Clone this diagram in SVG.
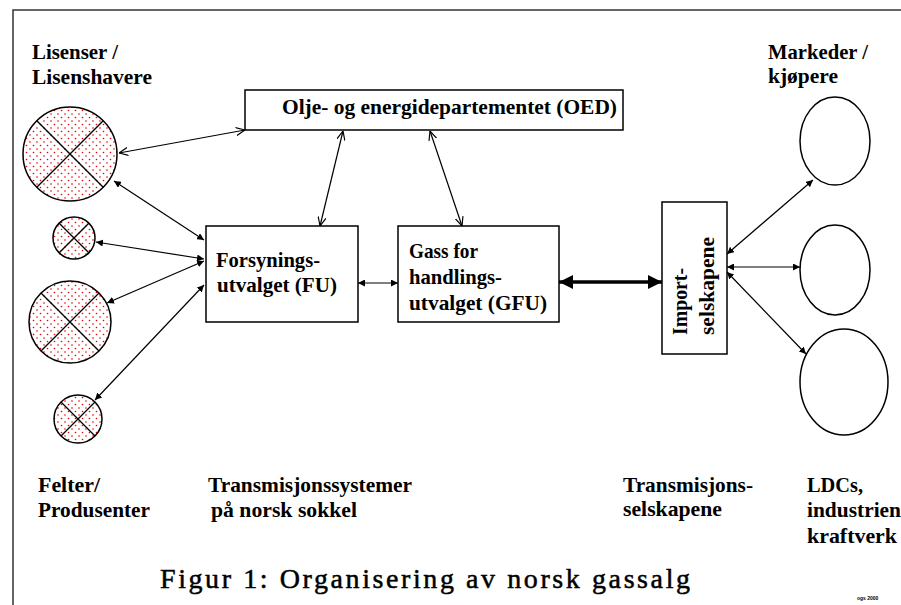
<svg xmlns="http://www.w3.org/2000/svg" width="901" height="605" viewBox="0 0 901 605">
<style>
.lbl{font-family:"Liberation Serif","Times New Roman",serif;font-weight:bold;font-size:21px;fill:#000}
.title{font-family:"Liberation Serif","Times New Roman",serif;font-size:28px;fill:#000;stroke:#000;stroke-width:0.5}
.box{fill:#fff;stroke:#000;stroke-width:1.5}
.circ{fill:url(#dots);stroke:#000;stroke-width:1.5}
.x{stroke:#000;stroke-width:1.3}
.ell{fill:#fff;stroke:#000;stroke-width:1.5}
.c{stroke:#000;stroke-width:1.2;fill:none;marker-start:url(#fa);marker-end:url(#fa)}
.o{stroke:#000;stroke-width:1.2;fill:none;marker-start:url(#oa);marker-end:url(#oa)}
.t{stroke:#000;stroke-width:3.5;fill:none;marker-start:url(#ta);marker-end:url(#ta)}
</style>
<defs>
<pattern id="dots" width="7" height="7" patternUnits="userSpaceOnUse">
<rect width="7" height="7" fill="#fff"/>
<circle cx="2" cy="2" r="0.8" fill="#e00000"/>
<circle cx="5.5" cy="5.5" r="0.8" fill="#e00000"/>
</pattern>
<marker id="fa" viewBox="0 0 10 10" refX="10" refY="5" markerWidth="7" markerHeight="7" markerUnits="userSpaceOnUse" orient="auto-start-reverse">
<path d="M0,0 L10,5 L0,10 z" fill="#000"/>
</marker>
<marker id="oa" viewBox="0 0 10 10" refX="10" refY="5" markerWidth="9" markerHeight="9" markerUnits="userSpaceOnUse" orient="auto-start-reverse">
<path d="M0,0.5 L10,5 L0,9.5" fill="none" stroke="#000" stroke-width="1.3"/>
</marker>
<marker id="ta" viewBox="0 0 10 10" refX="10" refY="5" markerWidth="16" markerHeight="14" markerUnits="userSpaceOnUse" orient="auto-start-reverse">
<path d="M0,0 L10,5 L0,10 z" fill="#000"/>
</marker>
</defs>
<rect x="0" y="0" width="901" height="605" fill="#fff"/>
<rect x="13" y="10" width="900" height="600" fill="none" stroke="#333" stroke-width="1.5"/>

<g id="connectors">
<line class="o" x1="119" y1="153" x2="245" y2="130"/>
<line class="c" x1="114" y1="181" x2="204" y2="240"/>
<line class="c" x1="96" y1="242" x2="204" y2="259"/>
<line class="c" x1="107" y1="303" x2="204" y2="261"/>
<line class="c" x1="95" y1="400" x2="204" y2="285"/>
<line class="o" x1="343" y1="131" x2="320" y2="226"/>
<line class="o" x1="430" y1="131" x2="462" y2="226"/>
<line class="c" x1="358" y1="283" x2="398" y2="283"/>
<line class="t" x1="559" y1="282" x2="662" y2="282"/>
<line class="c" x1="727" y1="254" x2="813" y2="180"/>
<line class="c" x1="727" y1="267" x2="800" y2="267"/>
<line class="c" x1="727" y1="272" x2="806" y2="354"/>
</g>

<g id="lisens-1">
<circle class="circ" cx="70" cy="154" r="47"/>
<line class="x" x1="36.8" y1="120.8" x2="103.2" y2="187.2"/>
<line class="x" x1="103.2" y1="120.8" x2="36.8" y2="187.2"/>
</g>
<g id="lisens-2">
<circle class="circ" cx="74" cy="238" r="21"/>
<line class="x" x1="59.2" y1="223.2" x2="88.8" y2="252.8"/>
<line class="x" x1="88.8" y1="223.2" x2="59.2" y2="252.8"/>
</g>
<g id="lisens-3">
<circle class="circ" cx="70" cy="322" r="41"/>
<line class="x" x1="41" y1="293" x2="99" y2="351"/>
<line class="x" x1="99" y1="293" x2="41" y2="351"/>
</g>
<g id="lisens-4">
<circle class="circ" cx="78" cy="419" r="24"/>
<line class="x" x1="61" y1="402" x2="95" y2="436"/>
<line class="x" x1="95" y1="402" x2="61" y2="436"/>
</g>

<g id="oed">
<rect class="box" x="245" y="90" width="378" height="40"/>
<text class="lbl" x="282" y="114" textLength="335" lengthAdjust="spacingAndGlyphs">Olje- og energidepartementet (OED)</text>
</g>
<g id="fu">
<rect class="box" x="206" y="226" width="152" height="96"/>
<text class="lbl" x="216" y="267" textLength="104" lengthAdjust="spacingAndGlyphs">Forsynings-</text>
<text class="lbl" x="217" y="292" textLength="120" lengthAdjust="spacingAndGlyphs">utvalget (FU)</text>
</g>
<g id="gfu">
<rect class="box" x="398" y="226" width="161" height="96"/>
<text class="lbl" x="409" y="258" textLength="69" lengthAdjust="spacingAndGlyphs">Gass for</text>
<text class="lbl" x="409" y="284" textLength="93" lengthAdjust="spacingAndGlyphs">handlings-</text>
<text class="lbl" x="409" y="310" textLength="138" lengthAdjust="spacingAndGlyphs">utvalget (GFU)</text>
</g>
<g id="import">
<rect class="box" x="662" y="202" width="65" height="152"/>
<text class="lbl" transform="translate(687,335) rotate(-90)" textLength="67" lengthAdjust="spacingAndGlyphs">Import-</text>
<text class="lbl" transform="translate(714,335) rotate(-90)" textLength="98" lengthAdjust="spacingAndGlyphs">selskapene</text>
</g>

<g id="marked-1"><ellipse class="ell" cx="835" cy="141" rx="35" ry="44"/></g>
<g id="marked-2"><ellipse class="ell" cx="835" cy="270" rx="35" ry="45"/></g>
<g id="marked-3"><ellipse class="ell" cx="844" cy="382" rx="44" ry="53"/></g>

<g id="labels">
<text class="lbl" x="32" y="59" textLength="86" lengthAdjust="spacingAndGlyphs">Lisenser /</text>
<text class="lbl" x="32" y="84" textLength="120" lengthAdjust="spacingAndGlyphs">Lisenshavere</text>
<text class="lbl" x="768" y="59" textLength="100" lengthAdjust="spacingAndGlyphs">Markeder /</text>
<text class="lbl" x="768" y="83" textLength="70" lengthAdjust="spacingAndGlyphs">kjøpere</text>
<text class="lbl" x="38" y="492" textLength="62" lengthAdjust="spacingAndGlyphs">Felter/</text>
<text class="lbl" x="38" y="517" textLength="112" lengthAdjust="spacingAndGlyphs">Produsenter</text>
<text class="lbl" x="208" y="492" textLength="204" lengthAdjust="spacingAndGlyphs">Transmisjonssystemer</text>
<text class="lbl" x="211" y="517" textLength="146" lengthAdjust="spacingAndGlyphs">på norsk sokkel</text>
<text class="lbl" x="623" y="492" textLength="130" lengthAdjust="spacingAndGlyphs">Transmisjons-</text>
<text class="lbl" x="623" y="516" textLength="99" lengthAdjust="spacingAndGlyphs">selskapene</text>
<text class="lbl" x="807" y="492" textLength="56" lengthAdjust="spacingAndGlyphs">LDCs,</text>
<text class="lbl" x="807" y="517" textLength="94" lengthAdjust="spacingAndGlyphs">industrien</text>
<text class="lbl" x="807" y="543" textLength="90" lengthAdjust="spacingAndGlyphs">kraftverk</text>
<text class="title" x="160" y="588" textLength="530" lengthAdjust="spacing">Figur 1: Organisering av norsk gassalg</text>
<text x="857" y="600" font-family="Liberation Sans, Arial, sans-serif" font-size="5" font-weight="bold">ogs 2000</text>
</g>
</svg>
